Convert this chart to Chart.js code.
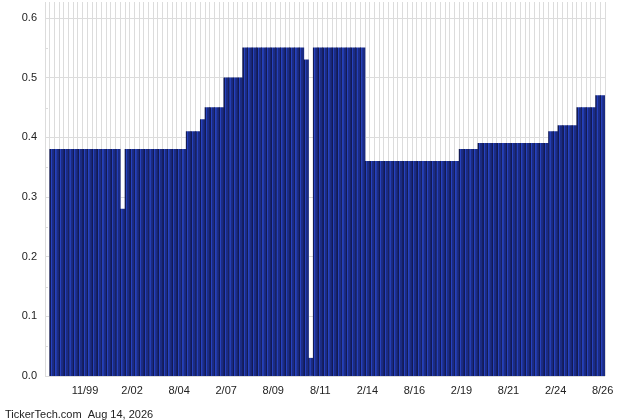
<!DOCTYPE html>
<html>
<head>
<meta charset="utf-8">
<script src="https://cdn.jsdelivr.net/npm/chart.js@4/dist/chart.umd.min.js"></script>
<style>
  html, body { margin: 0; padding: 0; background: #fff; }
  canvas { display: block; }
</style>
</head>
<body>
<canvas id="chart" width="640" height="420"></canvas>
<script>
// one entry per dividend bar, label only on every tenth bar
const categories = [
  '', '', '', '', '', '', '', '11/99', '', '',
  '', '', '', '', '', '', '', '2/02', '', '',
  '', '', '', '', '', '', '', '8/04', '', '',
  '', '', '', '', '', '', '', '2/07', '', '',
  '', '', '', '', '', '', '', '8/09', '', '',
  '', '', '', '', '', '', '', '8/11', '', '',
  '', '', '', '', '', '', '', '2/14', '', '',
  '', '', '', '', '', '', '', '8/16', '', '',
  '', '', '', '', '', '', '', '2/19', '', '',
  '', '', '', '', '', '', '', '8/21', '', '',
  '', '', '', '', '', '', '', '2/24', '', '',
  '', '', '', '', '', '', '', '8/26'
];

const dividends = [
  0.38, 0.38, 0.38, 0.38, 0.38, 0.38, 0.38, 0.38, 0.38, 0.38,
  0.38, 0.38, 0.38, 0.38, 0.38, 0.28, 0.38, 0.38, 0.38, 0.38,
  0.38, 0.38, 0.38, 0.38, 0.38, 0.38, 0.38, 0.38, 0.38, 0.41,
  0.41, 0.41, 0.43, 0.45, 0.45, 0.45, 0.45, 0.50, 0.50, 0.50,
  0.50, 0.55, 0.55, 0.55, 0.55, 0.55, 0.55, 0.55, 0.55, 0.55,
  0.55, 0.55, 0.55, 0.55, 0.53, 0.03, 0.55, 0.55, 0.55, 0.55,
  0.55, 0.55, 0.55, 0.55, 0.55, 0.55, 0.55, 0.36, 0.36, 0.36,
  0.36, 0.36, 0.36, 0.36, 0.36, 0.36, 0.36, 0.36, 0.36, 0.36,
  0.36, 0.36, 0.36, 0.36, 0.36, 0.36, 0.36, 0.38, 0.38, 0.38,
  0.38, 0.39, 0.39, 0.39, 0.39, 0.39, 0.39, 0.39, 0.39, 0.39,
  0.39, 0.39, 0.39, 0.39, 0.39, 0.39, 0.41, 0.41, 0.42, 0.42,
  0.42, 0.42, 0.45, 0.45, 0.45, 0.45, 0.47, 0.47
];

const yTicks = [0, 0.05, 0.1, 0.15, 0.2, 0.25, 0.3, 0.35, 0.4, 0.45, 0.5, 0.55, 0.6];
const footerText = 'TickerTech.com  Aug 14, 2026';

const FONT = '"Liberation Sans", Arial, sans-serif';
const GRID = '#dcdcdc';

// short marks for the in-between y ticks
const minorTicks = {
  id: 'minorTicks',
  afterDatasetsDraw(chart) {
    const y = chart.scales.y;
    const ctx = chart.ctx;
    const left = chart.chartArea.left;
    ctx.save();
    ctx.strokeStyle = GRID;
    ctx.lineWidth = 1;
    y.ticks.forEach((t, i) => {
      if (i % 2 === 0) return;
      const py = Math.round(y.getPixelForValue(t.value)) + 0.5;
      ctx.beginPath();
      ctx.moveTo(left, py);
      ctx.lineTo(left + 3, py);
      ctx.stroke();
    });
    ctx.restore();
  }
};

// each bar gets a dark edge and a lighter stripe, like the original
function barFill(context) {
  const chart = context.chart;
  const xs = chart.scales.x;
  if (!xs || !chart.chartArea) return '#1d2f88';
  const cx = xs.getPixelForValue(context.dataIndex);
  const w = xs.width / chart.data.labels.length;
  const g = chart.ctx.createLinearGradient(cx - w / 2, 0, cx + w / 2, 0);
  g.addColorStop(0, '#121a55');
  g.addColorStop(0.18, '#121a55');
  g.addColorStop(0.22, '#2642be');
  g.addColorStop(0.4, '#2642be');
  g.addColorStop(0.5, '#1c2d86');
  g.addColorStop(1, '#1a2a80');
  return g;
}

const chart = new Chart(document.getElementById('chart'), {
  type: 'bar',
  data: {
    // leading empty slot leaves the small gap after the axis
    labels: [''].concat(categories),
    datasets: [{
      data: [null].concat(dividends),
      backgroundColor: barFill,
      borderWidth: 0,
      barPercentage: 1,
      categoryPercentage: 1
    }]
  },
  options: {
    responsive: false,
    animation: false,
    layout: { padding: { left: 5, right: 35, top: 2, bottom: 0 } },
    plugins: {
      legend: { display: false },
      tooltip: { enabled: false },
      title: {
        display: true,
        text: footerText,
        position: 'bottom',
        align: 'start',
        color: '#222',
        font: { family: FONT, size: 11, weight: 'normal', lineHeight: 0.9 },
        padding: { top: 0, bottom: 0 }
      }
    },
    scales: {
      x: {
        afterFit(scale) { scale.height = 34; },
        grid: { color: GRID, drawTicks: false },
        border: { display: false },
        ticks: {
          autoSkip: false,
          maxRotation: 0,
          minRotation: 0,
          padding: 8,
          color: '#222',
          font: { family: FONT, size: 11 }
        }
      },
      y: {
        min: 0,
        max: 0.627,
        afterFit(scale) {
          scale.width = 40;
          scale.paddingTop = 0;
          scale.paddingBottom = 0;
        },
        afterBuildTicks(scale) { scale.ticks = yTicks.map(v => ({ value: v })); },
        grid: {
          drawTicks: false,
          color: ctx => (ctx.index % 2 === 0 ? GRID : 'rgba(0,0,0,0)')
        },
        border: { color: GRID },
        ticks: {
          padding: 8,
          color: '#222',
          font: { family: FONT, size: 11 },
          callback: (v, i) => (i % 2 === 0 ? v.toFixed(1) : '')
        }
      }
    }
  },
  plugins: [minorTicks]
});
</script>
</body>
</html>
